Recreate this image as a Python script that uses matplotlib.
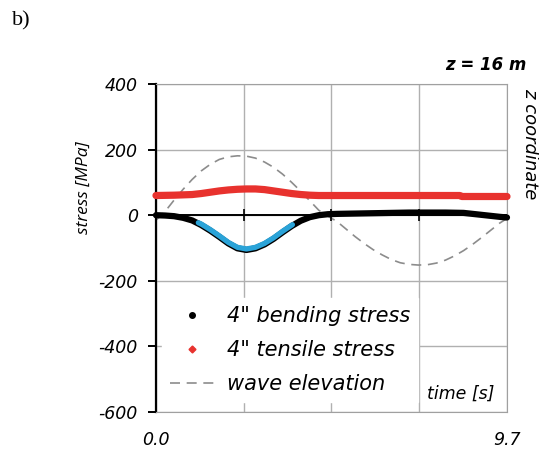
import numpy as np
import matplotlib.pyplot as plt
import matplotlib.transforms as mtransforms
from matplotlib.lines import Line2D

plt.rcParams['font.family'] = ['DejaVu Sans']

# wave elevation (dashed)
t_wave = [0, 0.25, 0.5, 0.75, 1.0, 1.25, 1.5, 1.75, 2.0, 2.25, 2.5, 2.75, 3.0, 3.25,
          3.5, 3.75, 4.0, 4.25, 4.5, 4.75, 5.0, 5.25, 5.5, 5.75, 6.0, 6.25, 6.5, 6.75,
          7.0, 7.25, 7.5, 7.75, 8.0, 8.25, 8.5, 8.75, 9.0, 9.25, 9.5, 9.7]
wave = [-15, 11, 46, 79, 109, 135, 155, 170, 178, 181, 180, 174, 162, 146,
        125, 100, 73, 44, 15, -3, -19, -42, -65, -86, -105, -121, -135, -145,
        -150, -152, -151, -146, -137, -124, -108, -89, -68, -46, -24, -10]

# 4" bending stress
t_bend = [0, 0.25, 0.5, 0.75, 1.0, 1.25, 1.5, 1.75, 2.0, 2.25, 2.5, 2.75, 3.0, 3.25,
          3.5, 3.75, 4.0, 4.25, 4.5, 4.75, 5.0, 5.5, 6.0, 6.5, 7.0, 7.5, 8.0, 8.5,
          8.75, 9.0, 9.25, 9.5, 9.7]
bend = [0, -1, -3, -8, -16, -30, -47, -66, -86, -101, -106, -101, -89, -72,
        -52, -33, -17, -6, 0, 3, 4, 5, 6, 7, 8, 8, 8, 7,
        4, 1, -2, -5, -7]
# highlighted (blue) part of the bending stress
t_hl = [1.17, 1.25, 1.5, 1.75, 2.0, 2.25, 2.5, 2.75, 3.0, 3.25, 3.5, 3.77]
hl = [-26, -30, -47, -66, -86, -101, -106, -101, -89, -72, -52, -32]

# 4" tensile stress
t_ten = [0, 0.5, 1.0, 1.25, 1.5, 1.75, 2.0, 2.25, 2.5, 2.75, 3.0, 3.25, 3.5, 3.75,
         4.0, 4.25, 4.5, 5.5, 6.5, 7.5, 8.4, 8.45, 9.7]
ten = [60, 61, 63, 66, 70, 74, 77, 79, 80, 80, 78, 74, 70, 66,
       63, 61, 60, 60, 60, 60, 60, 57, 57]

xticks = [0, 2.425, 4.85, 7.275, 9.7]
xlabels = ['0.0', '', '', '', '9.7']
yticks = [-600, -400, -200, 0, 200, 400]
labels = ['4" bending stress', '4" tensile stress', 'wave elevation']

fig = plt.figure(figsize=(5.39, 4.53), dpi=100)
ax = fig.add_axes([0.2894, 0.0905, 0.6512, 0.7241])

grey = '#8c8c8c'
red = '#e8322e'
blue = '#2aa3d8'

ax.plot(t_wave, wave, color=grey, lw=1.2, ls=(0, (6, 4)), zorder=2)
ax.plot(t_ten, ten, color=red, lw=5.2, solid_capstyle='round', zorder=3, clip_on=False)
ax.plot(t_bend, bend, color='black', lw=4.5, solid_capstyle='round', zorder=3, clip_on=False)
up = mtransforms.offset_copy(ax.transData, fig=fig, x=0, y=1.0, units='dots')
ax.plot(t_hl, hl, color=blue, lw=3.8, solid_capstyle='round', zorder=4, transform=up)

ax.axhline(0, color='black', lw=1.4, zorder=2.5)
ax.plot(xticks[1:4], [0, 0, 0], ls='none', marker='|', color='black', ms=9, mew=1.2, zorder=2.5)

ax.set_xlim(0, 9.7)
ax.set_ylim(-600, 400)
ax.set_xticks(xticks)
ax.set_xticklabels(xlabels, fontstyle='italic', fontsize=12.5)
ax.set_yticks(yticks)
ax.set_yticklabels([str(v) for v in yticks], fontstyle='italic', fontsize=12.5)
ax.tick_params(axis='x', length=0, pad=14)
ax.tick_params(axis='y', length=6, width=1.4, direction='out', pad=7)
ax.grid(True, color='#b0b0b0', lw=1.0, zorder=0)
ax.set_axisbelow(True)

for s in ['top', 'right', 'bottom']:
    ax.spines[s].set_color('#a0a0a0')
ax.spines['left'].set_color('black')
ax.spines['left'].set_linewidth(1.6)

ax.text(-1.99, 85, 'stress [MPa]', rotation=90, fontstyle='italic', fontsize=12.5,
        family='Open Sans', ha='center', va='center')
ax.text(10.33, 388, 'z coordinate', rotation=-90, fontstyle='italic', fontsize=13,
        ha='center', va='top')
ax.text(10.25, 457, 'z = 16 m', fontstyle='italic', fontweight='bold', fontsize=12,
        ha='right', va='center')
ax.text(9.36, -545, 'time [s]', fontstyle='italic', fontsize=12.5, ha='right', va='center')

handles = [
    Line2D([], [], ls='none', marker='o', color='black', ms=4),
    Line2D([], [], ls='none', marker='D', color=red, ms=3.5),
    Line2D([], [], color=grey, lw=1.2, ls=(0, (6, 4))),
]
leg = ax.legend(handles, labels, loc='upper left', bbox_to_anchor=(0.017, 0.3476),
                borderaxespad=0, borderpad=0.4,
                frameon=True, framealpha=1, edgecolor='white', fancybox=False,
                handlelength=2.1, handletextpad=0.6, labelspacing=0.66,
                prop={'style': 'italic', 'size': 15})
leg.set_zorder(5)

fig.text(0.022, 0.955, 'b)', family='Liberation Serif', fontsize=16, va='center', ha='left')

fig.savefig('out.png', dpi=100)
